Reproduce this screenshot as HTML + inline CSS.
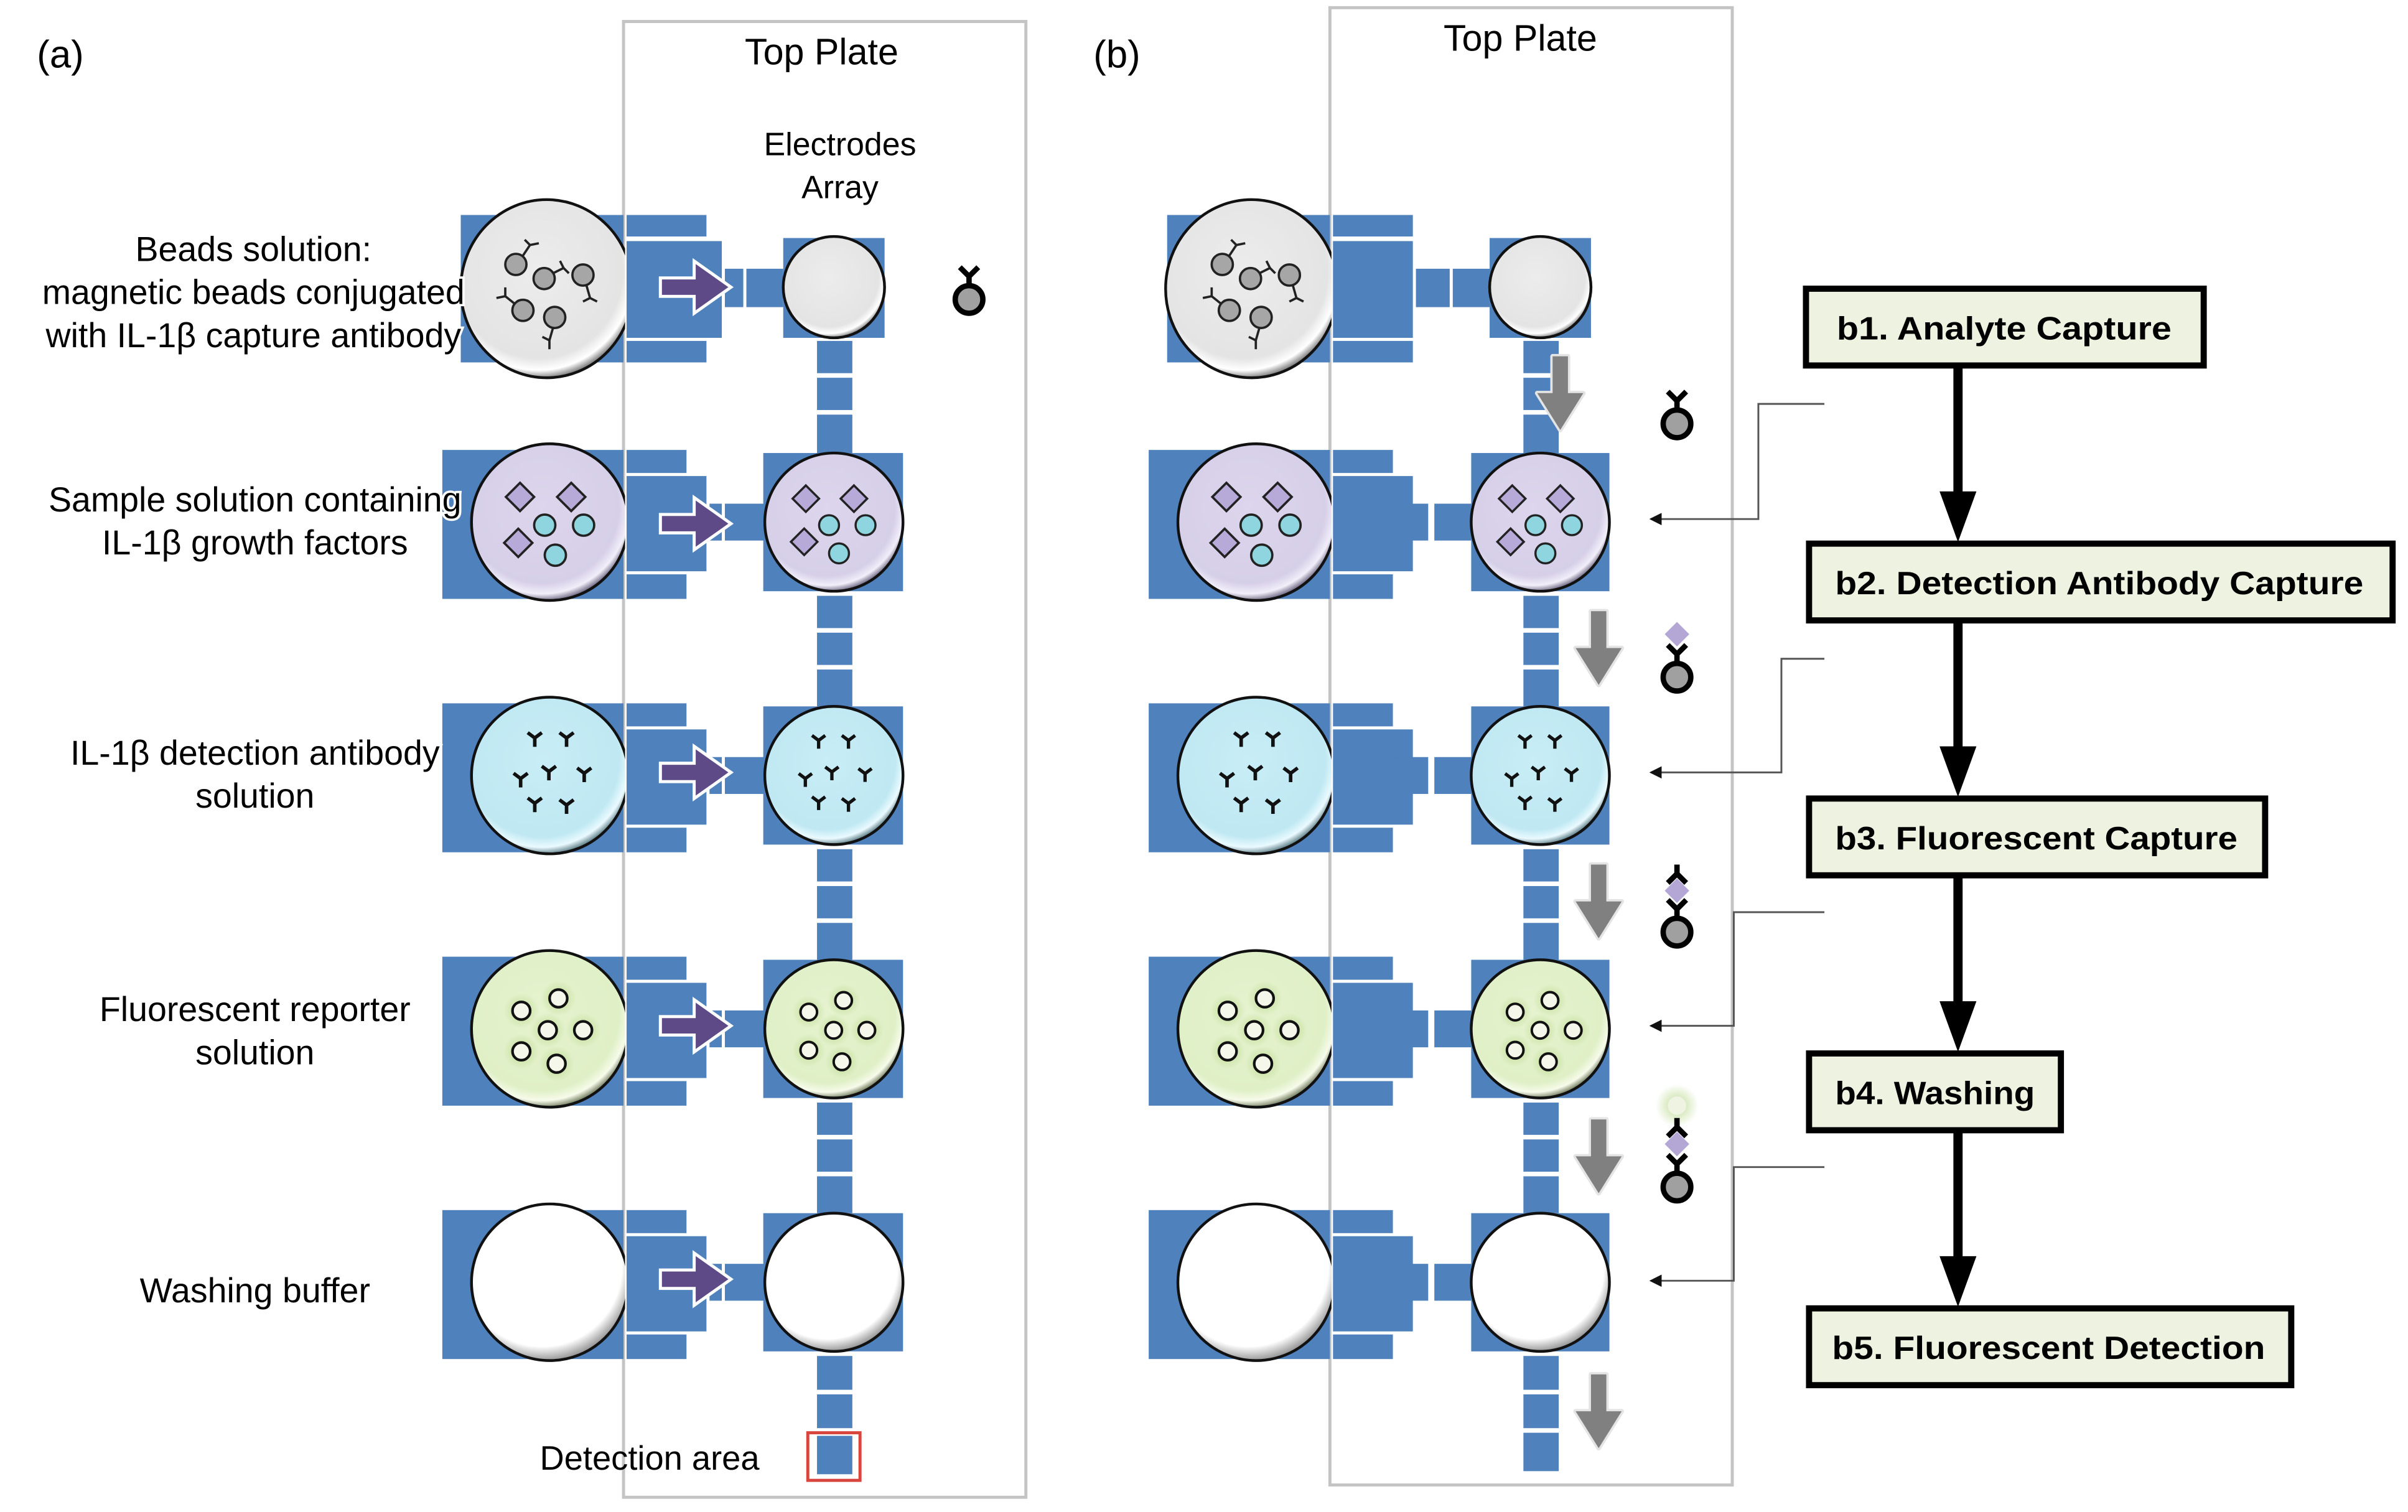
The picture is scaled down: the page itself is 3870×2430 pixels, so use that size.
<!DOCTYPE html>
<html><head><meta charset="utf-8"><style>
html,body{margin:0;padding:0;background:#fff;}
svg{display:block;}
text{font-family:"Liberation Sans",sans-serif;}
</style></head><body>
<svg width="3870" height="2430" viewBox="0 0 1568 984.6" xmlns="http://www.w3.org/2000/svg">
<defs>
 <radialGradient id="gGray" cx="45%" cy="40%" r="60%"><stop offset="0" stop-color="#ececec"/><stop offset="0.82" stop-color="#e4e4e4"/><stop offset="0.93" stop-color="#ffffff"/><stop offset="1" stop-color="#8a8a8a"/></radialGradient>
 <radialGradient id="gPur" cx="45%" cy="40%" r="60%"><stop offset="0" stop-color="#dcd5ec"/><stop offset="0.82" stop-color="#d6cfe8"/><stop offset="0.93" stop-color="#f2eef9"/><stop offset="1" stop-color="#7d7890"/></radialGradient>
 <radialGradient id="gCy" cx="45%" cy="40%" r="60%"><stop offset="0" stop-color="#c8edf6"/><stop offset="0.82" stop-color="#bfe8f2"/><stop offset="0.93" stop-color="#eafaff"/><stop offset="1" stop-color="#6e8c94"/></radialGradient>
 <radialGradient id="gGr" cx="45%" cy="40%" r="60%"><stop offset="0" stop-color="#e6f3cf"/><stop offset="0.82" stop-color="#dfefc6"/><stop offset="0.93" stop-color="#f6fbea"/><stop offset="1" stop-color="#828c70"/></radialGradient>
 <radialGradient id="gWh" cx="45%" cy="40%" r="60%"><stop offset="0" stop-color="#ffffff"/><stop offset="0.85" stop-color="#ffffff"/><stop offset="1" stop-color="#9a9a9a"/></radialGradient>
 <radialGradient id="glow"><stop offset="0" stop-color="#b8d78a" stop-opacity="0.9"/><stop offset="1" stop-color="#b8d78a" stop-opacity="0"/></radialGradient>
 <clipPath id="clipA"><rect x="0" y="0" width="407" height="985"/></clipPath>
 <clipPath id="clipB"><rect x="0" y="0" width="867" height="985"/></clipPath>
 <marker id="ah" markerWidth="8" markerHeight="8" refX="7" refY="4" orient="auto" markerUnits="userSpaceOnUse"><path d="M0,0 L8,4 L0,8z" fill="#111"/></marker>

 <g id="beadsC" stroke="#222" stroke-width="1.3" fill="#a6a6a6">
  <circle cx="-14" cy="-12" r="6"/><path d="M-10,-17 l4,-6 M-6,-23 l-3,-3 M-6,-23 l5,-1" fill="none"/>
  <circle cx="2" cy="-4" r="6"/><path d="M7,-7 l6,-3 M13,-10 l-2,-4 M13,-10 l3,3" fill="none"/>
  <circle cx="24" cy="-6" r="6"/><path d="M26,0 l2,7 M28,7 l-4,2 M28,7 l4,2" fill="none"/>
  <circle cx="-10" cy="14" r="6"/><path d="M-15,10 l-5,-4 M-20,6 l0,-5 M-20,6 l-5,1" fill="none"/>
  <circle cx="8" cy="18" r="6"/><path d="M7,24 l-2,7 M5,31 l-4,-2 M5,31 l0,5" fill="none"/>
 </g>
 <g id="purC" stroke="#222" stroke-width="1.3">
  <g fill="#b7a9d8"><path d="M-16,-24 l8,8 l-8,8 l-8,-8z"/><path d="M13,-24 l8,8 l-8,8 l-8,-8z"/><path d="M-17,2 l8,8 l-8,8 l-8,-8z"/></g>
  <g fill="#8fd5df"><circle cx="-2" cy="0" r="6"/><circle cx="20" cy="0" r="6"/><circle cx="4" cy="17" r="6"/></g>
 </g>
 <g id="cyC" stroke="#111" stroke-width="2" fill="none">
  <path d="M-12,-18 v-5 l-4,-3 M-12,-23 l4,-3"/>
  <path d="M6,-18 v-5 l-4,-3 M6,-23 l4,-3"/>
  <path d="M-20,0 l-4,-3 M-20,0 l4,-3 M-20,0 v5"/>
  <path d="M-4,-4 v5 M-4,-4 l-4,-3 M-4,-4 l4,-3"/>
  <path d="M16,-3 v5 M16,-3 l-4,-3 M16,-3 l4,-3"/>
  <path d="M-12,14 v5 M-12,14 l-4,-3 M-12,14 l4,-3"/>
  <path d="M6,15 v5 M6,15 l-4,-3 M6,15 l4,-3"/>
 </g>
 <g id="grC">
  <g fill="url(#glow)"><circle cx="-17" cy="-12" r="10"/><circle cx="4" cy="-19" r="10"/><circle cx="-2" cy="-1" r="10"/><circle cx="18" cy="-1" r="10"/><circle cx="-17" cy="11" r="10"/><circle cx="3" cy="18" r="10"/></g>
  <g fill="#f4f7ea" stroke="#111" stroke-width="1.5"><circle cx="-17" cy="-12" r="5"/><circle cx="4" cy="-19" r="5"/><circle cx="-2" cy="-1" r="5"/><circle cx="18" cy="-1" r="5"/><circle cx="-17" cy="11" r="5"/><circle cx="3" cy="18" r="5"/></g>
 </g>

 <g id="parrow"><path d="M-25,-6 h22 v-11 l24,17 l-24,17 v-11 h-22z" fill="#5d4a86" stroke="#fff" stroke-width="2"/></g>
 <g id="garrow"><path d="M-5,0 h10 v24 h10 l-15,24 l-15,-24 h10z" fill="#808080" stroke="#e4e4e4" stroke-width="3" stroke-linejoin="round"/><path d="M-5,0 h10 v24 h10 l-15,24 l-15,-24 h10z" fill="#808080"/></g>
 <g id="beadM"><circle cx="0" cy="0" r="9" fill="#a0a0a0" stroke="#000" stroke-width="3.5"/><path d="M0,-9 v-6 M0,-15 l-6,-6 M0,-15 l6,-6" stroke="#000" stroke-width="3.5" fill="none"/></g>
 <g id="diaM"><path d="M0,-8 l8,8 l-8,8 l-8,-8z" fill="#b4a7d6"/></g>
 <g id="yM"><path d="M0,0 v-6 M0,-6 l-6,-6 M0,-6 l6,-6" stroke="#000" stroke-width="3.5" fill="none"/></g>
</defs>

<!-- ===== PANEL A ===== -->
<text x="24" y="44" font-size="25">(a)</text>
<rect x="406" y="14" width="262" height="961" fill="none" stroke="#c4c4c4" stroke-width="2"/>
<text x="535" y="42" font-size="24" text-anchor="middle">Top Plate</text>
<text x="547" y="101" font-size="21" text-anchor="middle">Electrodes</text>
<text x="547" y="129" font-size="21" text-anchor="middle">Array</text>

<g fill="#4f81bd">
 <rect x="300" y="140" width="106" height="96"/>
 <rect x="408" y="140" width="52" height="14"/>
 <rect x="408" y="157" width="62" height="63"/>
 <rect x="408" y="222" width="52" height="14"/>
 <rect x="472" y="175" width="12" height="25"/><rect x="486" y="175" width="24" height="25"/>
 <rect x="510" y="155" width="66" height="65"/>
 <g id="rowA">
  <rect x="288" y="293" width="118" height="97"/>
  <rect x="408" y="293" width="39" height="15"/>
  <rect x="408" y="310" width="52" height="62"/>
  <rect x="408" y="374" width="39" height="16"/>
  <rect x="462" y="328" width="8" height="24"/><rect x="472" y="328" width="26" height="24"/>
  <rect x="497" y="295" width="91" height="90"/>
 </g>
 <use href="#rowA" y="165"/><use href="#rowA" y="330"/><use href="#rowA" y="495"/>
 <rect x="532" y="222" width="23" height="21"/><rect x="532" y="246" width="23" height="21"/><rect x="532" y="270" width="23" height="25"/>
 <g id="chainA2">
  <rect x="532" y="388" width="23" height="21"/><rect x="532" y="412" width="23" height="21"/><rect x="532" y="436" width="23" height="24"/>
 </g>
 <use href="#chainA2" y="165"/><use href="#chainA2" y="330"/>
 <rect x="532" y="883" width="23" height="22"/><rect x="532" y="908" width="23" height="22"/><rect x="532" y="935" width="23" height="25"/>
</g>
<rect x="526" y="933" width="34" height="31" fill="none" stroke="#d9453c" stroke-width="2"/>
<text x="423" y="957" font-size="22" text-anchor="middle">Detection area</text>

<g clip-path="url(#clipA)" stroke="#111" stroke-width="1.8">
 <ellipse cx="356" cy="188" rx="56" ry="58" fill="url(#gGray)"/>
 <circle cx="358" cy="340" r="51" fill="url(#gPur)"/>
 <circle cx="358" cy="505" r="51" fill="url(#gCy)"/>
 <circle cx="358" cy="670" r="51" fill="url(#gGr)"/>
 <circle cx="358" cy="835" r="51" fill="url(#gWh)"/>
</g>
<use href="#beadsC" transform="translate(352,186) scale(1.15)"/>
<use href="#purC" transform="translate(357,342) scale(1.15)"/>
<use href="#cyC" transform="translate(362,507) scale(1.15)"/>
<use href="#grC" transform="translate(359,672) scale(1.15)"/>

<g stroke="#111" stroke-width="1.8">
 <circle cx="543" cy="187" r="33" fill="url(#gGray)"/>
 <circle cx="543" cy="340" r="45" fill="url(#gPur)"/>
 <circle cx="543" cy="505" r="45" fill="url(#gCy)"/>
 <circle cx="543" cy="670" r="45" fill="url(#gGr)"/>
 <circle cx="543" cy="835" r="45" fill="url(#gWh)"/>
</g>
<use href="#purC" transform="translate(542,342) scale(1.08)"/>
<use href="#cyC" transform="translate(546,507) scale(1.08)"/>
<use href="#grC" transform="translate(545,672) scale(1.08)"/>

<use href="#parrow" transform="translate(455,187)"/>
<use href="#parrow" transform="translate(455,341)"/>
<use href="#parrow" transform="translate(455,503)"/>
<use href="#parrow" transform="translate(455,668)"/>
<use href="#parrow" transform="translate(455,833)"/>
<use href="#beadM" transform="translate(631,195)"/>

<!-- labels on top -->
<g font-size="22.5" text-anchor="middle" stroke="#fff" stroke-width="3" paint-order="stroke" fill="#000">
<text x="165" y="170">Beads solution:</text>
<text x="165" y="198">magnetic beads conjugated</text>
<text x="165" y="226">with IL-1β capture antibody</text>
<text x="166" y="333">Sample solution containing</text>
<text x="166" y="361">IL-1β growth factors</text>
<text x="166" y="498">IL-1β detection antibody</text>
<text x="166" y="526">solution</text>
<text x="166" y="665">Fluorescent reporter</text>
<text x="166" y="693">solution</text>
<text x="166" y="848">Washing buffer</text>
</g>

<!-- ===== PANEL B ===== -->
<text x="712" y="44" font-size="25">(b)</text>
<rect x="866" y="5" width="262" height="962" fill="none" stroke="#c4c4c4" stroke-width="2"/>
<text x="990" y="33" font-size="24" text-anchor="middle">Top Plate</text>

<g fill="#4f81bd">
 <rect x="760" y="140" width="106" height="96"/>
 <rect x="868" y="140" width="52" height="14"/>
 <rect x="868" y="157" width="52" height="63"/>
 <rect x="922" y="175" width="22" height="25"/><rect x="946" y="175" width="24" height="25"/>
 <rect x="868" y="222" width="52" height="14"/>
 <rect x="970" y="155" width="66" height="65"/>
 <g id="rowB">
  <rect x="748" y="293" width="118" height="97"/>
  <rect x="868" y="293" width="39" height="15"/>
  <rect x="868" y="310" width="52" height="62"/>
  <rect x="868" y="374" width="39" height="16"/>
  <rect x="908" y="328" width="22" height="24"/><rect x="934" y="328" width="24" height="24"/>
  <rect x="958" y="295" width="90" height="90"/>
 </g>
 <use href="#rowB" y="165"/><use href="#rowB" y="330"/><use href="#rowB" y="495"/>
 <rect x="992" y="222" width="23" height="21"/><rect x="992" y="246" width="23" height="21"/><rect x="992" y="270" width="23" height="25"/>
 <g id="chainB">
  <rect x="992" y="388" width="23" height="21"/><rect x="992" y="412" width="23" height="21"/><rect x="992" y="436" width="23" height="24"/>
 </g>
 <use href="#chainB" y="165"/><use href="#chainB" y="330"/>
 <rect x="992" y="883" width="23" height="22"/><rect x="992" y="908" width="23" height="22"/><rect x="992" y="933" width="23" height="25"/>
</g>

<g clip-path="url(#clipB)" stroke="#111" stroke-width="1.8">
 <ellipse cx="815" cy="188" rx="56" ry="58" fill="url(#gGray)"/>
 <circle cx="818" cy="340" r="51" fill="url(#gPur)"/>
 <circle cx="818" cy="505" r="51" fill="url(#gCy)"/>
 <circle cx="818" cy="670" r="51" fill="url(#gGr)"/>
 <circle cx="818" cy="835" r="51" fill="url(#gWh)"/>
</g>
<use href="#beadsC" transform="translate(812,186) scale(1.15)"/>
<use href="#purC" transform="translate(817,342) scale(1.15)"/>
<use href="#cyC" transform="translate(822,507) scale(1.15)"/>
<use href="#grC" transform="translate(819,672) scale(1.15)"/>

<g stroke="#111" stroke-width="1.8">
 <circle cx="1003" cy="187" r="33" fill="url(#gGray)"/>
 <circle cx="1003" cy="340" r="45" fill="url(#gPur)"/>
 <circle cx="1003" cy="505" r="45" fill="url(#gCy)"/>
 <circle cx="1003" cy="670" r="45" fill="url(#gGr)"/>
 <circle cx="1003" cy="835" r="45" fill="url(#gWh)"/>
</g>
<use href="#purC" transform="translate(1002,342) scale(1.08)"/>
<use href="#cyC" transform="translate(1006,507) scale(1.08)"/>
<use href="#grC" transform="translate(1005,672) scale(1.08)"/>

<use href="#garrow" transform="translate(1016,232)"/>
<use href="#garrow" transform="translate(1041,398)"/>
<use href="#garrow" transform="translate(1041,563)"/>
<use href="#garrow" transform="translate(1041,729)"/>
<use href="#garrow" transform="translate(1041,895)"/>

<use href="#beadM" transform="translate(1092,276)"/>
<use href="#diaM" transform="translate(1092,413)"/>
<use href="#beadM" transform="translate(1092,441)"/>
<use href="#yM" transform="translate(1092,563) rotate(180)"/>
<use href="#diaM" transform="translate(1092,580)"/>
<use href="#beadM" transform="translate(1092,607)"/>
<circle cx="1092" cy="720" r="14" fill="url(#glow)"/>
<circle cx="1092" cy="720" r="6" fill="#eef3e2"/>
<use href="#yM" transform="translate(1092,728) rotate(180)"/>
<use href="#diaM" transform="translate(1092,745)"/>
<use href="#beadM" transform="translate(1092,773)"/>

<g stroke="#555" stroke-width="1.2" fill="none">
 <path d="M1188,263 H1145 V338 H1075" marker-end="url(#ah)"/>
 <path d="M1188,429 H1160 V503 H1075" marker-end="url(#ah)"/>
 <path d="M1188,594 H1129 V668 H1075" marker-end="url(#ah)"/>
 <path d="M1188,760 H1129 V834 H1075" marker-end="url(#ah)"/>
</g>

<g stroke="#000" stroke-width="6">
 <line x1="1275" y1="238" x2="1275" y2="325"/>
 <line x1="1275" y1="404" x2="1275" y2="491"/>
 <line x1="1275" y1="570" x2="1275" y2="657"/>
 <line x1="1275" y1="736" x2="1275" y2="823"/>
</g>
<g fill="#000">
 <path d="M1263,320 h24 l-12,33z"/><path d="M1263,486 h24 l-12,33z"/><path d="M1263,652 h24 l-12,33z"/><path d="M1263,818 h24 l-12,33z"/>
</g>
<g fill="#eef2e1" stroke="#000" stroke-width="4">
 <rect x="1176" y="188" width="259" height="50"/>
 <rect x="1178" y="354" width="380" height="50"/>
 <rect x="1178" y="520" width="297" height="50"/>
 <rect x="1178" y="686" width="164" height="50"/>
 <rect x="1178" y="852" width="314" height="50"/>
</g>
<g font-size="21" font-weight="bold" text-anchor="middle">
 <text x="1305" y="221" textLength="218" lengthAdjust="spacingAndGlyphs">b1. Analyte Capture</text>
 <text x="1367" y="387" textLength="344" lengthAdjust="spacingAndGlyphs">b2. Detection Antibody Capture</text>
 <text x="1326" y="553" textLength="262" lengthAdjust="spacingAndGlyphs">b3. Fluorescent Capture</text>
 <text x="1260" y="719" textLength="130" lengthAdjust="spacingAndGlyphs">b4. Washing</text>
 <text x="1334" y="885" textLength="282" lengthAdjust="spacingAndGlyphs">b5. Fluorescent Detection</text>
</g>
</svg>
</body></html>
